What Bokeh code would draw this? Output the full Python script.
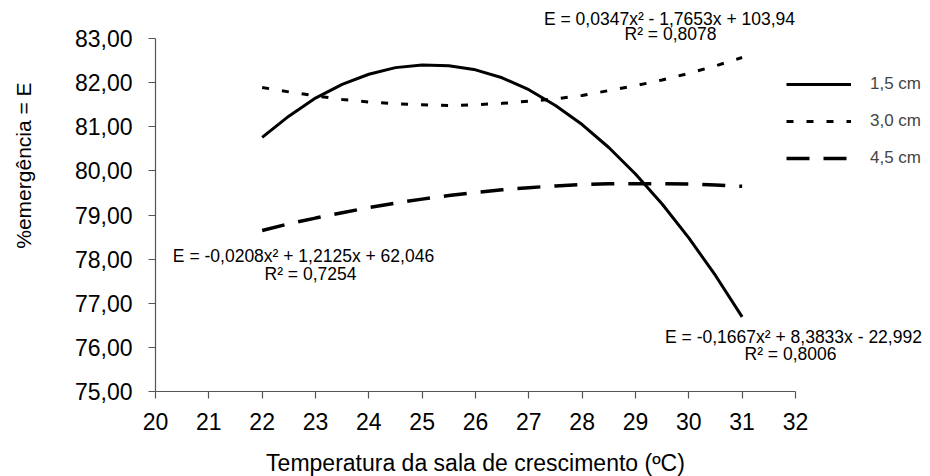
from bokeh.plotting import figure
from bokeh.models import Label, Legend, LegendItem, FixedTicker, Range1d, LinearAxis
from bokeh.embed import file_html
from bokeh.resources import INLINE
from math import pi

# ---- data ----
temp = [22, 22.5, 23, 23.5, 24, 24.5, 25, 25.5, 26, 26.5, 27, 27.5, 28,
        28.5, 29, 29.5, 30, 30.5, 31]
e_15 = [80.76, 81.24, 81.65, 81.96, 82.19, 82.34, 82.40, 82.38, 82.29, 82.11,
        81.84, 81.48, 81.05, 80.53, 79.93, 79.25, 78.48, 77.63, 76.69]
e_30 = [81.89, 81.79, 81.70, 81.62, 81.56, 81.52, 81.50, 81.48, 81.50, 81.53,
        81.58, 81.63, 81.71, 81.82, 81.93, 82.06, 82.21, 82.38, 82.57]
e_45 = [78.65, 78.80, 78.93, 79.05, 79.17, 79.27, 79.36, 79.44, 79.51, 79.57,
        79.62, 79.66, 79.69, 79.71, 79.71, 79.71, 79.70, 79.68, 79.65]
series_names = ["1,5 cm", "3,0 cm", "4,5 cm"]

x_ticks = list(range(20, 33))
y_ticks = [75, 76, 77, 78, 79, 80, 81, 82, 83]
y_tick_labels = ["75,00", "76,00", "77,00", "78,00", "79,00", "80,00", "81,00", "82,00", "83,00"]

eq_15 = ["E = -0,1667x² + 8,3833x - 22,992", "R² = 0,8006"]
eq_30 = ["E = 0,0347x² - 1,7653x + 103,94", "R² = 0,8078"]
eq_45 = ["E = -0,0208x² + 1,2125x + 62,046", "R² = 0,7254"]

x_title = "Temperatura da sala de crescimento (ºC)"
y_title = "%emergência = E"

FONT = "Liberation Sans"

W, H = 930, 476
XPX, YPX = 53.33, 44.125      # pixels per unit
X0, Y0 = 155, 38              # canvas position of x=20 and y=83
xs = 20 - X0 / XPX
ys_top = 83 + Y0 / YPX

p = figure(width=W, height=H, output_backend="svg", toolbar_location=None,
           x_range=Range1d(xs, xs + W / XPX), y_range=Range1d(ys_top - H / YPX, ys_top),
           x_axis_type=None, y_axis_type=None, min_border=0)
p.xgrid.visible = False
p.ygrid.visible = False
p.outline_line_color = None
p.background_fill_color = "white"
p.border_fill_color = "white"

xaxis = LinearAxis(fixed_location=75, bounds=(20, 32), ticker=FixedTicker(ticks=x_ticks))
yaxis = LinearAxis(fixed_location=20, bounds=(75, 83), ticker=FixedTicker(ticks=y_ticks))
yaxis.major_label_overrides = {t: l for t, l in zip(y_ticks, y_tick_labels)}
for ax in (xaxis, yaxis):
    ax.axis_line_color = "#555555"
    ax.axis_line_width = 1.2
    ax.major_tick_line_color = "#555555"
    ax.major_tick_line_width = 1.2
    ax.major_tick_in = 0
    ax.major_tick_out = 7
    ax.minor_tick_line_color = None
    ax.major_label_text_font = FONT
    ax.major_label_text_font_size = "23px"
    ax.major_label_text_color = "black"
xaxis.major_label_standoff = 14
yaxis.major_label_standoff = 16
p.add_layout(xaxis, "below")
p.add_layout(yaxis, "left")

r1 = p.line(temp, e_15, line_color="black", line_width=3)
r2 = p.line(temp, e_30, line_color="black", line_width=3, line_dash="7 13")
r3 = p.line(temp, e_45, line_color="black", line_width=3.5, line_dash="23 14")

legend = Legend(items=[LegendItem(label=series_names[0], renderers=[r1]),
                       LegendItem(label=series_names[1], renderers=[r2]),
                       LegendItem(label=series_names[2], renderers=[r3])],
                location=(786, 308), orientation="vertical",
                border_line_color=None, background_fill_alpha=0,
                padding=0, margin=0, spacing=17, glyph_width=65, glyph_height=20,
                label_height=20, label_standoff=19,
                label_text_font=FONT, label_text_font_size="17px")
p.add_layout(legend, "center")

def add_eq(lines, xpos, ypos, size="17.5px"):
    for t, x, y in zip(lines, xpos, ypos):
        p.add_layout(Label(x=x, y=y, text=t, text_font=FONT,
                           text_font_size=size, text_align="center",
                           text_baseline="middle", text_color="black"))

add_eq(eq_30, [29.638, 29.657], [83.453, 83.113])
add_eq(eq_45, [22.775, 22.906], [78.082, 77.674])
add_eq(eq_15, [31.963, 31.907], [76.246, 75.861])

p.add_layout(Label(x=26.0, y=73.37, text=x_title, text_font=FONT,
                   text_font_size="23px", text_align="center",
                   text_baseline="middle", text_color="black"))
p.add_layout(Label(x=17.525, y=80.12, text=y_title, text_font=FONT,
                   text_font_size="21px", text_align="center",
                   text_baseline="middle", angle=pi / 2, text_color="black"))

open("out.html", "w").write(file_html(p, INLINE))
